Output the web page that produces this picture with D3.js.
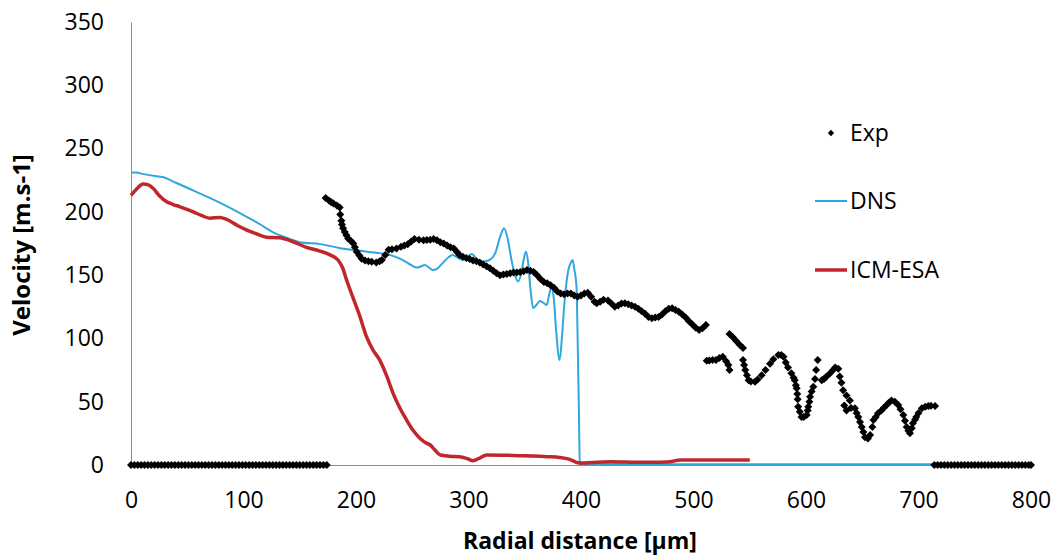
<!DOCTYPE html>
<html>
<head>
<meta charset="utf-8">
<script src="https://cdn.jsdelivr.net/npm/d3@7"></script>
<style>
  body { margin: 0; background: #fff; }
  text { font-family: 'Open Sans', sans-serif; fill: #000; }
</style>
</head>
<body>
<div id="chart"></div>
<script>
const xTicks = [0, 100, 200, 300, 400, 500, 600, 700, 800]
const yTicks = [0, 50, 100, 150, 200, 250, 300, 350]
const seriesNames = ['Exp', 'DNS', 'ICM-ESA']

// DNS [radial distance, velocity]
const dns = [
  [0, 231], [5, 231], [10, 230], [20, 228.5], [28, 227.5], [40, 223], [55, 217], [70, 211],
  [85, 204.5], [100, 197.5], [115, 190], [126, 184], [140, 179], [150, 176], [168, 174.5],
  [185, 171.5], [197, 170], [210, 168.5], [218, 167.7], [230, 166], [239, 163], [247, 159],
  [254, 156], [258, 157], [261, 158], [265, 156], [268, 154], [272, 155], [277, 159.5],
  [282, 164], [286, 166], [290, 164], [295, 162], [299, 164.5], [303, 166.7], [307, 163],
  [310, 160.6], [315, 161], [319, 162], [324, 168], [328, 180], [331.6, 187], [335, 178],
  [338, 163], [341, 151], [344, 145], [347, 152], [349, 162], [351, 168.5], [353, 160],
  [355, 140], [357.5, 124], [360, 126], [363.6, 129.5], [366, 128.5], [369.5, 126.5],
  [372, 135.8], [374, 141], [376, 130], [378, 105], [381, 83], [383, 100], [385, 125],
  [387, 143.5], [389, 155], [391, 160], [392.6, 162], [394, 155], [396, 141], [397, 100],
  [398, 50], [399, 1], [400, 0.5], [500, 0.5], [600, 0.5], [700, 0.5], [800, 0.5]
]

// ICM-ESA [radial distance, velocity]
const icm = [
  [0, 213], [5, 218], [10.7, 222], [15, 221.5], [19.6, 218.6], [25, 213], [31.7, 208], [37, 206],
  [43.6, 204], [55.4, 200], [63, 197], [70, 195], [79, 195.6], [85, 194], [95, 189], [103, 185.6],
  [112, 182.5], [120.6, 180], [132, 179.5], [144, 176.4], [156, 172], [168, 169], [177, 166],
  [184, 162], [188, 156], [191.7, 146], [197, 133], [203.6, 117], [209.5, 101], [215, 91],
  [221, 83], [227, 71], [233, 56.6], [239, 45], [245, 35.5], [251, 27], [257, 21], [262, 17.5],
  [266, 15.8], [270, 12], [275, 7.9], [283, 7], [292, 6.6], [299, 5], [304, 3.4], [310, 5.5],
  [316, 7.9], [330, 7.8], [345, 7.4], [357, 7.1], [370, 6.6], [381, 6], [390, 4.5], [397, 1.8],
  [400, 1.5], [410, 2], [426, 2.6], [440, 2.3], [452, 2.1], [465, 2.2], [479, 2.6], [488, 4],
  [500, 4], [520, 4], [550, 4]
]

// Exp, radii of the points sitting on zero
const expZeroR = [
  0, 3, 6, 9, 12, 15, 18, 21, 24, 27, 30, 33, 36, 39, 42, 45, 48, 51, 54, 57, 60, 63, 66, 69,
  72, 75, 78, 81, 84, 87, 90, 93, 96, 99, 102, 105, 108, 111, 114, 117, 120, 123, 126, 129,
  132, 135, 138, 141, 144, 147, 150, 153, 156, 159, 162, 165, 168, 171, 174,
  714, 717, 720, 723, 726, 729, 732, 735, 738, 741, 744, 747, 750, 753, 756, 759, 762, 765,
  768, 771, 774, 777, 780, 783, 786, 789, 792, 795, 798, 800
]

// Exp [radial distance, velocity]
const exp = [
  [173, 211], [176, 209], [178, 207.5], [180, 206.7], [183, 205], [185.5, 203.5], [186, 198],
  [187, 193], [187.5, 190], [188.5, 187], [190, 184], [191.5, 181.5], [193, 179], [195.5, 177],
  [197.6, 175], [199, 172], [200.6, 168.5], [203, 165.5], [205, 163], [208, 161.5], [211, 161],
  [214, 160.5], [218, 160], [221, 161], [223, 162], [226, 166], [229, 170], [232, 170.5],
  [236, 171], [240, 172.5], [243, 173.5], [246, 174.5], [249, 176.5], [252, 178.5], [256, 178],
  [260, 177.5], [263, 177.7], [266, 178], [269, 178.5], [272, 177.5], [275, 176], [278, 175],
  [281, 173.5], [284, 172], [287, 171], [290, 168], [292, 166], [295, 164.5], [298, 163.5],
  [301, 162.7], [304, 161.5], [307, 161], [310, 160], [313, 158.5], [316, 157], [319, 155.4],
  [322, 153.5], [325, 151.5], [328, 150], [331, 150.5], [334, 151], [337, 151.4], [340, 152],
  [343, 152], [346, 152.5], [349, 153], [352, 154], [355, 153.5], [358, 152.5], [361, 150],
  [364, 147], [367, 144.5], [370, 143.5], [373, 142], [376, 140], [379, 137], [382, 135.5],
  [385, 135], [388, 135.5], [391, 135.5], [394, 134], [397, 133], [400, 134], [403, 135.5],
  [406, 136], [409, 133], [412, 129], [414, 127.7], [417, 129], [420, 130.5], [424, 130],
  [427, 127.5], [430, 125], [433, 126], [436, 127.5], [439, 127.7], [442, 127], [445, 126],
  [448, 125], [451, 123.5], [454, 121.5], [457, 119.5], [460, 117], [463, 116], [466, 116.5],
  [469, 117], [472, 119], [475, 121.5], [478, 123.5], [481, 123.8], [484, 122.5], [487, 121],
  [490, 119], [493, 116.5], [496, 113.5], [499, 111], [502, 108.5], [505, 106.6], [508, 108],
  [511, 110.6],
  [511.7, 82.4], [514, 82.5], [517, 83], [520, 83], [523, 84.5], [526, 85.5], [529, 82],
  [531, 79], [532, 75],
  [532, 103.5], [535, 101], [538, 98], [541, 95], [544, 92.5],
  [544, 83], [545, 79], [546, 75], [547.5, 71], [549, 67], [551, 66], [554.7, 65.8], [557, 67.5],
  [560.6, 71], [564, 75], [568, 80], [571, 83.5], [575.4, 86.9], [578, 87], [580, 85.5],
  [582, 81], [584, 77], [587, 72.4], [589, 69], [590, 67], [591, 63], [591.7, 60.6], [592.3, 56],
  [592.6, 52], [593, 46], [594.5, 42], [596, 38], [598, 38], [600.6, 39.5], [601.5, 43],
  [602, 46], [603, 50], [603.6, 54], [605, 58], [606.5, 61.8], [608, 68], [609, 75], [610.4, 83],
  [614, 67], [616, 68], [618, 69.7], [621, 72], [624, 75], [626, 77], [628.7, 76], [630, 70],
  [631.5, 65], [633, 59], [636, 55], [639, 51], [634, 47], [636, 43], [640, 45], [643.5, 44.8],
  [645, 41], [646.5, 38], [648, 34], [649.5, 30], [651, 26], [652.4, 22], [655, 21],
  [657, 23.7], [659, 30], [660, 35.5], [662, 38], [664, 40.8], [667, 43], [669, 45],
  [671.7, 47.4], [674, 49.5], [676, 51], [679, 50], [682, 47.4], [684, 44], [686.5, 39.5],
  [688, 35], [689.5, 30], [691, 27], [692.4, 25], [694, 29], [695, 33], [697, 36], [698, 38],
  [700, 41], [703, 44.8], [706, 46], [708.7, 46.6], [711, 46.8], [714.7, 46.6]
]

const width = 1057
const height = 556
const margin = { top: 22, right: 26, bottom: 91, left: 131 }

const svg = d3.select('#chart')
  .append('svg')
  .attr('width', width)
  .attr('height', height)

const x = d3.scaleLinear().domain([0, 800]).range([margin.left, width - margin.right])
const y = d3.scaleLinear().domain([0, 350]).range([height - margin.bottom, margin.top])

const blue = '#2ea7de'
const red = '#c0262c'

// axes
const yAxis = svg.append('g')
  .attr('transform', 'translate(' + margin.left + ',0)')
  .call(d3.axisLeft(y).tickValues(yTicks).tickSize(0).tickPadding(27))
yAxis.select('.domain').attr('stroke', '#8c8c8c')
yAxis.selectAll('text').attr('font-size', 23).attr('font-family', 'Open Sans')

const xAxis = svg.append('g')
  .attr('transform', 'translate(0,' + y(0) + ')')
  .call(d3.axisBottom(x).tickValues(xTicks).tickSize(0).tickPadding(27))
xAxis.select('.domain').attr('stroke', '#8c8c8c')
xAxis.selectAll('text').attr('font-size', 23).attr('font-family', 'Open Sans')

svg.append('text')
  .attr('x', 580)
  .attr('y', 549)
  .attr('text-anchor', 'middle')
  .attr('font-size', 23)
  .attr('font-weight', 'bold')
  .text('Radial distance [µm]')

svg.append('text')
  .attr('transform', 'translate(30,245) rotate(-90)')
  .attr('text-anchor', 'middle')
  .attr('font-size', 24)
  .attr('font-weight', 'bold')
  .text('Velocity [m.s-1]')

// lines
const line = d3.line()
  .x(d => x(d[0]))
  .y(d => y(d[1]))
  .curve(d3.curveMonotoneX)

svg.append('path')
  .datum(dns)
  .attr('d', line)
  .attr('fill', 'none')
  .attr('stroke', blue)
  .attr('stroke-width', 2)

svg.append('path')
  .datum(icm)
  .attr('d', line)
  .attr('fill', 'none')
  .attr('stroke', red)
  .attr('stroke-width', 3.5)

// exp markers (square turned 45deg)
const diamond = d3.symbol().type(d3.symbolSquare).size(32)

svg.selectAll('.exp-zero')
  .data(expZeroR)
  .enter()
  .append('path')
  .attr('class', 'exp-zero')
  .attr('d', diamond)
  .attr('transform', d => 'translate(' + x(d) + ',' + y(0) + ') rotate(45)')
  .attr('fill', '#000')

svg.selectAll('.exp')
  .data(exp)
  .enter()
  .append('path')
  .attr('class', 'exp')
  .attr('d', diamond)
  .attr('transform', d => 'translate(' + x(d[0]) + ',' + y(d[1]) + ') rotate(45)')
  .attr('fill', '#000')

// legend
const legend = svg.append('g').attr('transform', 'translate(815,0)')
const legendY = [133, 201, 270]

legend.append('path')
  .attr('d', d3.symbol().type(d3.symbolSquare).size(20))
  .attr('transform', 'translate(16,' + legendY[0] + ') rotate(45)')
  .attr('fill', '#000')
legend.append('line')
  .attr('x1', 0).attr('x2', 32)
  .attr('y1', legendY[1]).attr('y2', legendY[1])
  .attr('stroke', blue).attr('stroke-width', 2)
legend.append('line')
  .attr('x1', 0).attr('x2', 32)
  .attr('y1', legendY[2]).attr('y2', legendY[2])
  .attr('stroke', red).attr('stroke-width', 3.5)

legend.selectAll('.legend-label')
  .data(seriesNames)
  .enter()
  .append('text')
  .attr('class', 'legend-label')
  .attr('x', 35)
  .attr('y', (d, i) => legendY[i])
  .attr('dy', '0.35em')
  .attr('font-size', 23)
  .text(d => d)
</script>
</body>
</html>
